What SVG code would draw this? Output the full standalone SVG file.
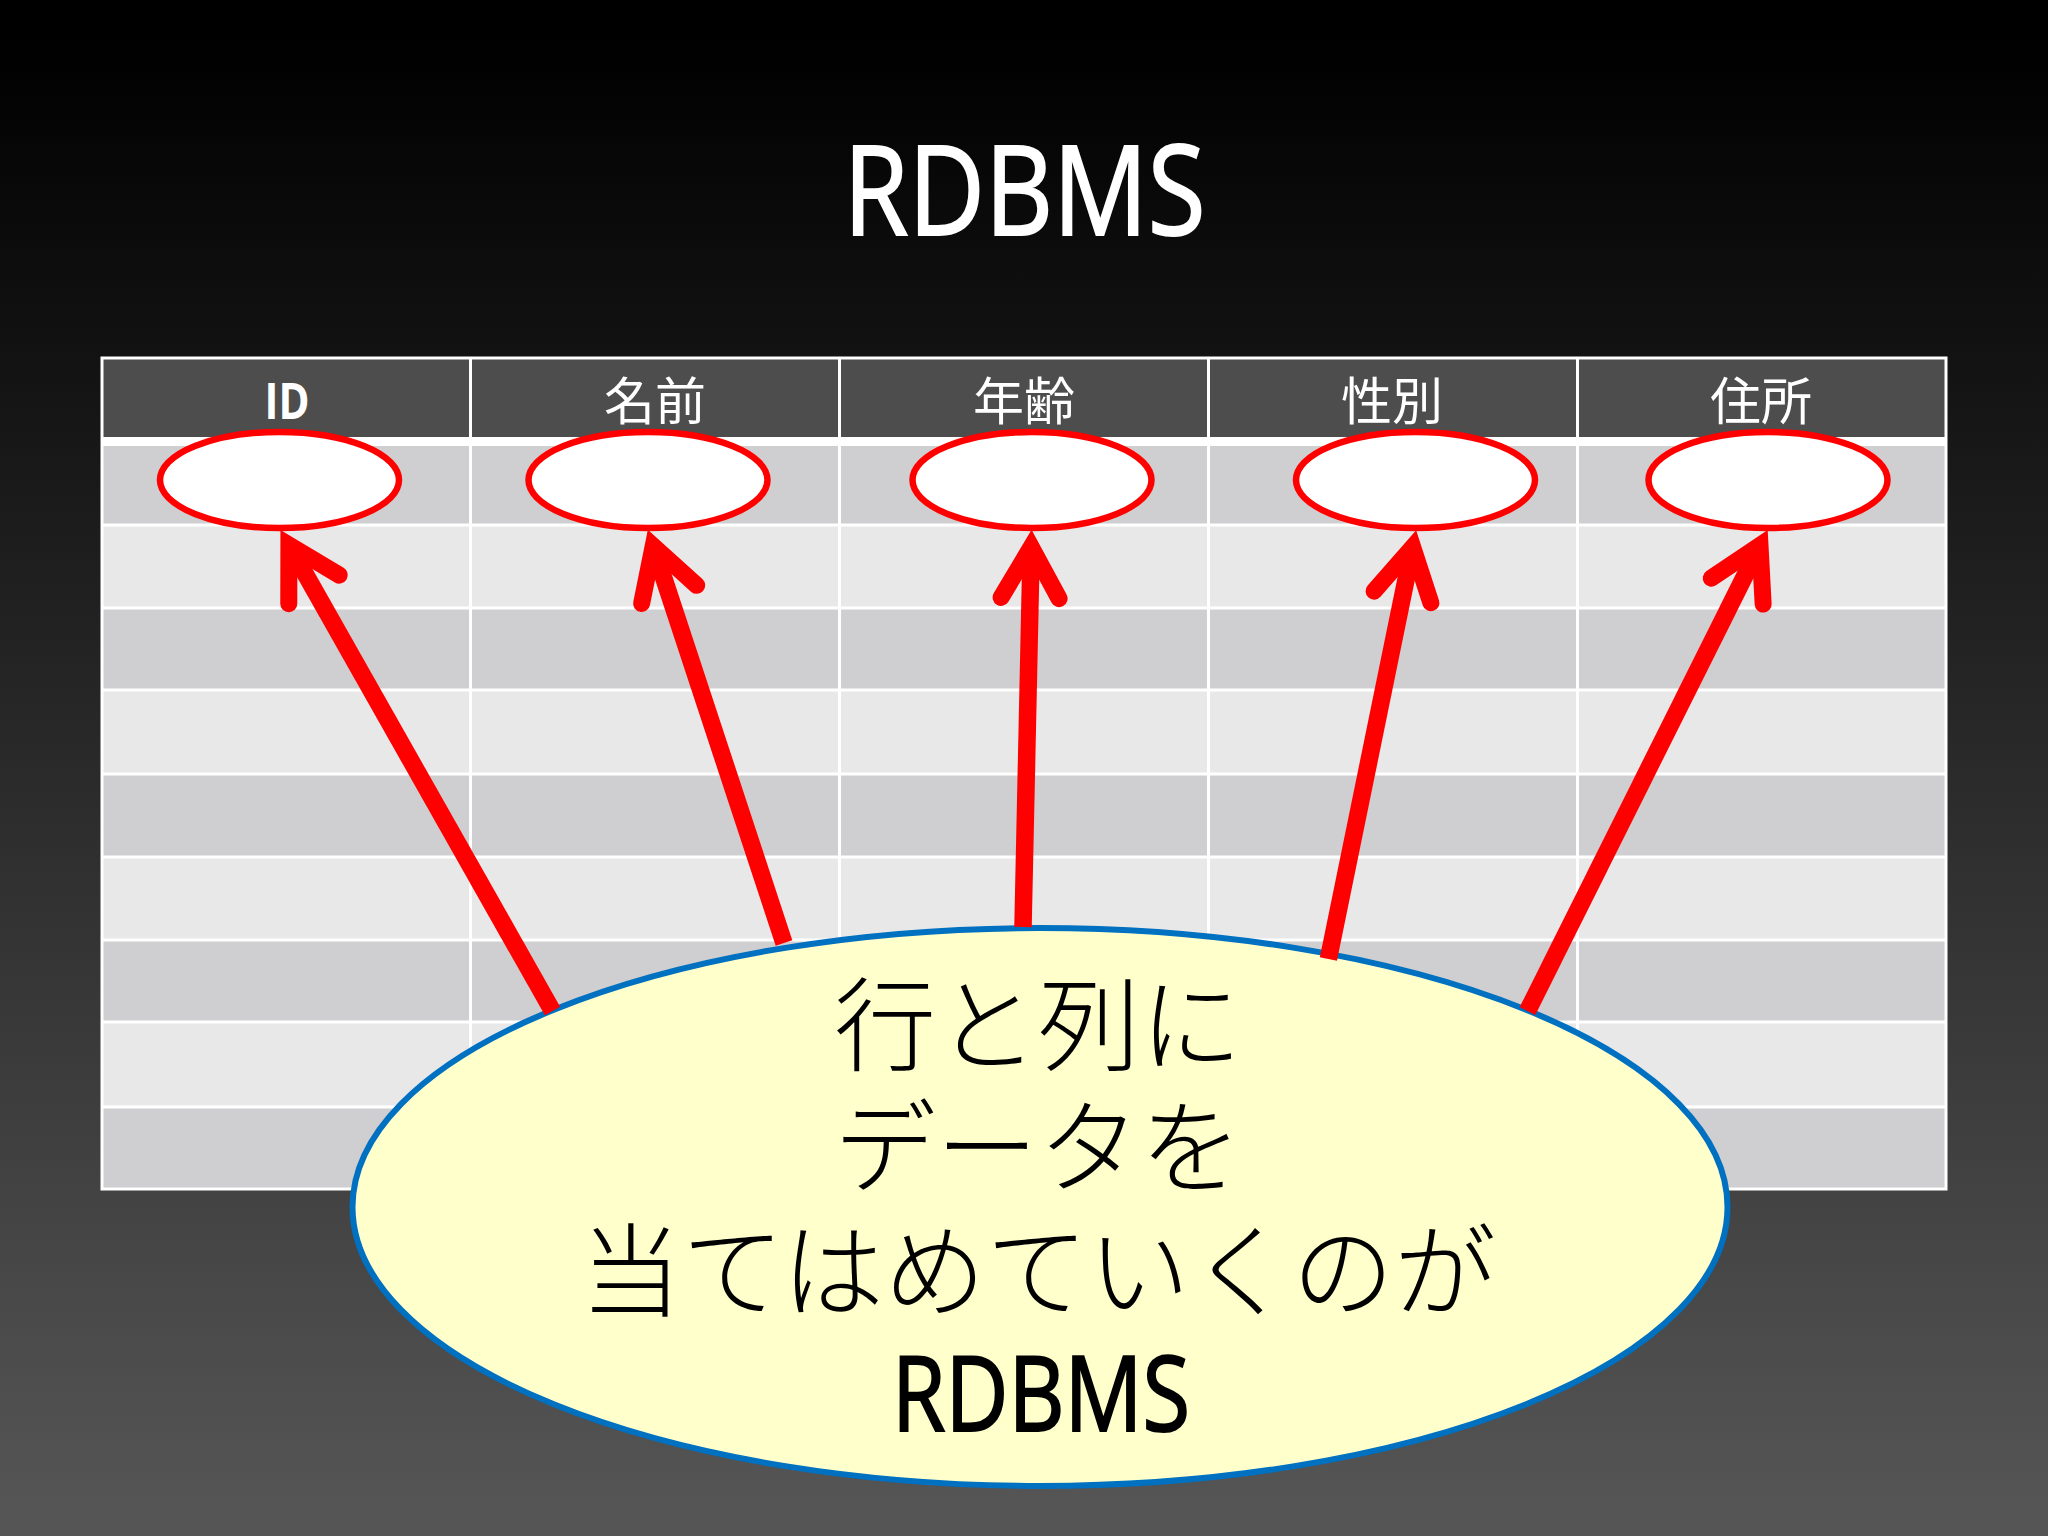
<svg xmlns="http://www.w3.org/2000/svg" width="2048" height="1536" viewBox="0 0 2048 1536">
<style>
.dark{fill:#cfced0}
.light{fill:#e8e8e9}
.hdr{fill:#4d4d4d}
.grid{stroke:#fff;stroke-width:3;fill:none}
.slot{fill:#fff;stroke:#f00;stroke-width:6.500}
.arrow{stroke:#f00;stroke-width:17.500;fill:none;marker-end:url(#head)}
.th{fill:#fff;font-family:"Noto Sans CJK JP","Noto Sans",sans-serif;font-size:51px;text-anchor:middle}
.jp{fill:#000;font-family:"Noto Sans CJK JP",sans-serif;font-size:102px;font-weight:300;text-anchor:middle}
.lat{font-family:"Open Sans","Noto Sans",sans-serif;text-anchor:middle;stroke-width:2}
</style>
<defs>
<linearGradient id="bg" gradientUnits="userSpaceOnUse" x1="0" y1="40" x2="0" y2="1510">
<stop offset="0" stop-color="#000"/><stop offset="1" stop-color="#555"/>
</linearGradient>
<marker id="head" markerUnits="userSpaceOnUse" markerWidth="80" markerHeight="80" refX="70" refY="40" orient="auto" overflow="visible">
<path d="M19,11 L70,40 L19,69" fill="none" stroke="#f00" stroke-width="17" stroke-linecap="round" stroke-linejoin="miter" stroke-miterlimit="10"/>
</marker>
</defs>
<rect width="2048" height="1536" fill="url(#bg)"/>
<text class="lat" x="1024.500" y="235" font-size="124" fill="#fff" stroke="#fff" textLength="362" lengthAdjust="spacingAndGlyphs">RDBMS</text>
<g id="table">
<rect class="hdr" x="101" y="357" width="1846" height="80"/>
<rect x="101" y="437" width="1846" height="9" fill="#fff"/>
<rect class="dark" x="101" y="446" width="1846" height="79"/>
<rect class="light" x="101" y="525" width="1846" height="83"/>
<rect class="dark" x="101" y="608" width="1846" height="82"/>
<rect class="light" x="101" y="690" width="1846" height="84"/>
<rect class="dark" x="101" y="774" width="1846" height="83"/>
<rect class="light" x="101" y="857" width="1846" height="83"/>
<rect class="dark" x="101" y="940" width="1846" height="82"/>
<rect class="light" x="101" y="1022" width="1846" height="85"/>
<rect class="dark" x="101" y="1107" width="1846" height="82"/>
<path class="grid" d="M470.500,357V1189M839.500,357V1189M1208.500,357V1189M1577.500,357V1189M101,525H1947M101,608H1947M101,690H1947M101,774H1947M101,857H1947M101,940H1947M101,1022H1947M101,1107H1947"/>
<rect class="grid" x="102" y="358" width="1844" height="831"/>
<text x="287" y="419" fill="#fff" font-size="51" text-anchor="middle" style="font-family:'Open Sans','Noto Sans',sans-serif;font-weight:700" textLength="45" lengthAdjust="spacingAndGlyphs">ID</text>
<text class="th" x="655" y="420">名前</text>
<text class="th" x="1024" y="420">年齢</text>
<text class="th" x="1392" y="420">性別</text>
<text class="th" x="1761" y="420">住所</text>
</g>
<g id="slot-id"><ellipse class="slot" cx="279.500" cy="480" rx="119.500" ry="48"/></g>
<g id="slot-name"><ellipse class="slot" cx="648" cy="480" rx="119.500" ry="48"/></g>
<g id="slot-age"><ellipse class="slot" cx="1032" cy="480" rx="119.500" ry="48"/></g>
<g id="slot-gender"><ellipse class="slot" cx="1415.500" cy="480" rx="119.500" ry="48"/></g>
<g id="slot-address"><ellipse class="slot" cx="1768" cy="480" rx="119.500" ry="48"/></g>
<g id="note">
<ellipse cx="1040" cy="1207" rx="687.500" ry="279" fill="#ffffcc" stroke="#0070c0" stroke-width="6"/>
<text class="jp" x="1038" y="1063">行と列に</text>
<text class="jp" x="1038" y="1185">データを</text>
<text class="jp" x="1038" y="1309">当てはめていくのが</text>
<text class="lat" x="1041" y="1431" font-size="104" fill="#000" stroke="#000" textLength="298" lengthAdjust="spacingAndGlyphs">RDBMS</text>
</g>
<g id="connectors">
<line class="arrow" x1="552.500" y1="1011" x2="288.900" y2="545"/>
<line class="arrow" x1="784" y1="943" x2="653.200" y2="546"/>
<line class="arrow" x1="1023" y1="927" x2="1031.200" y2="547"/>
<line class="arrow" x1="1328.400" y1="959" x2="1412.700" y2="547"/>
<line class="arrow" x1="1527.500" y1="1011" x2="1760" y2="545.500"/>
</g>
</svg>
